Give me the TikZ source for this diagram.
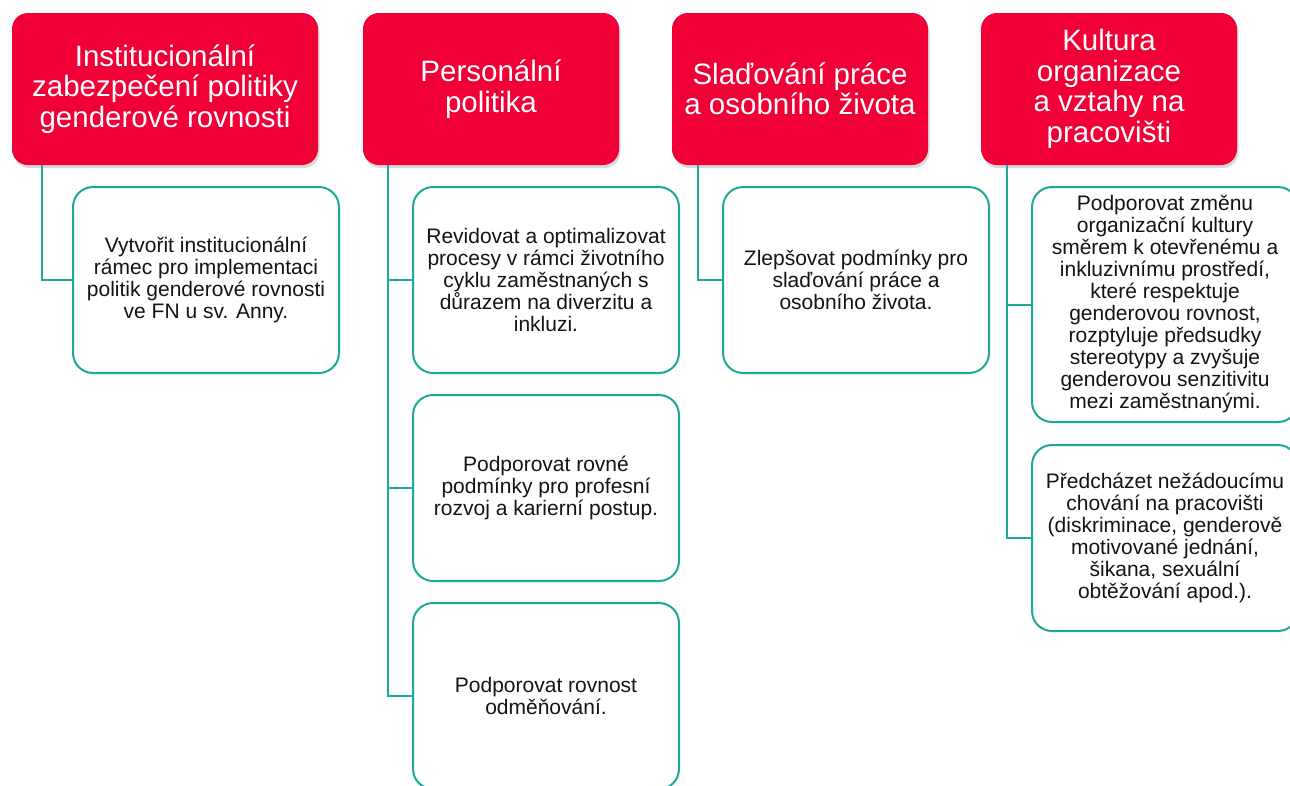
\documentclass[tikz,border=0pt]{standalone}
\usepackage{fontspec}
\setmainfont{Liberation Sans}
\usepackage{xcolor}
\usetikzlibrary{positioning, shadows}

\definecolor{headred}{RGB}{240,0,55}
\definecolor{lineteal}{RGB}{27,169,154}
\definecolor{bodytext}{RGB}{20,20,20}

\begin{document}
\begin{tikzpicture}[
    x=1pt, y=1pt,
    node distance=22pt and 53pt,
    head/.style={
        rectangle,
        rounded corners=16pt,
        fill=headred,
        text=white,
        align=center,
        minimum width=256pt,
        minimum height=152pt,
        inner sep=0pt,
        outer sep=0pt,
        drop shadow={shadow xshift=1.5pt, shadow yshift=-3pt, opacity=0.3},
        font=\fontsize{29.5}{30.5}\selectfont
    },
    task/.style={
        rectangle,
        rounded corners=20pt,
        draw=lineteal,
        line width=2pt,
        fill=white,
        text=bodytext,
        align=center,
        minimum width=266pt,
        minimum height=186pt,
        inner sep=0pt,
        outer sep=0pt,
        font=\fontsize{21}{22}\selectfont
    },
    link/.style={draw=lineteal, line width=2pt}
]

\useasboundingbox (0,0) rectangle (1290,-785);
\clip (0,0) rectangle (1290,-785);

% headers
\node[head, minimum width=306pt] (inst) at (165,-89) {Institucionální\\zabezpečení politiky\\genderové rovnosti};
\node[head, right=45pt of inst] (pers) {Personální\\politika};
\node[head, right=of pers] (slad) {Slaďování práce\\a osobního života};
\node[head, right=of slad] (kult) {Kultura\\organizace\\a vztahy na\\pracovišti};

% goals
\node[task, below=of inst, xshift=41pt] (inst1) {Vytvořit institucionální\\rámec pro implementaci\\politik genderové rovnosti\\ve FN u sv. Anny.};
\node[task, below=of pers, xshift=55pt] (pers1) {Revidovat a optimalizovat\\procesy v rámci životního\\cyklu zaměstnaných s\\důrazem na diverzitu a\\inkluzi.};
\node[task, below=of pers1] (pers2) {Podporovat rovné\\podmínky pro profesní\\rozvoj a karierní postup.};
\node[task, below=of pers2] (pers3) {Podporovat rovnost\\odměňování.};
\node[task, below=of slad, xshift=56pt] (slad1) {Zlepšovat podmínky pro\\slaďování práce a\\osobního života.};
\node[task, below=of kult, xshift=56pt, minimum height=235pt] (kult1) {Podporovat změnu\\organizační kultury\\směrem k otevřenému a\\inkluzivnímu prostředí,\\které respektuje\\genderovou rovnost,\\rozptyluje předsudky\\stereotypy a zvyšuje\\genderovou senzitivitu\\mezi zaměstnanými.};
\node[task, below=23pt of kult1] (kult2) {Předcházet nežádoucímu\\chování na pracovišti\\(diskriminace, genderově\\motivované jednání,\\šikana, sexuální\\obtěžování apod.).};

% connectors
\draw[link] ([xshift=30pt]inst.south west) |- (inst1.west);
\foreach \t in {pers1,pers2,pers3}
    \draw[link] ([xshift=25pt]pers.south west) |- (\t.west);
\draw[link] ([xshift=26pt]slad.south west) |- (slad1.west);
\foreach \t in {kult1,kult2}
    \draw[link] ([xshift=26pt]kult.south west) |- (\t.west);

\end{tikzpicture}
\end{document}
